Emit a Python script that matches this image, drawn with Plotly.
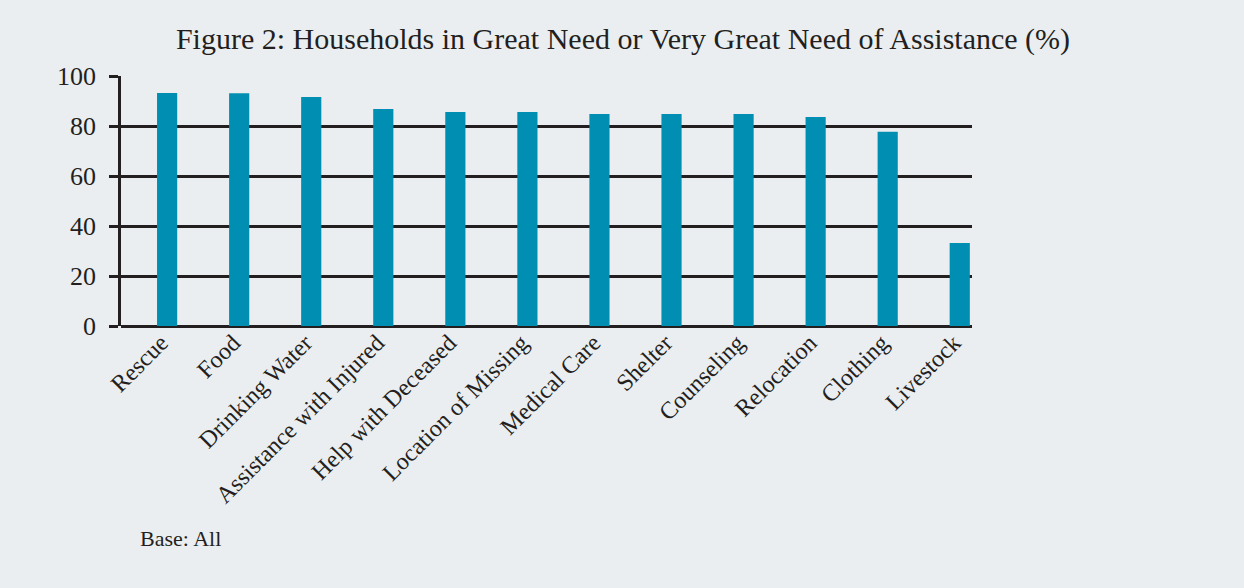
import plotly.graph_objects as go

categories = ["Rescue", "Food", "Drinking Water", "Assistance with Injured",
              "Help with Deceased", "Location of Missing", "Medical Care", "Shelter",
              "Counseling", "Relocation", "Clothing", "Livestock"]
values = [93.2, 93.1, 91.6, 86.8, 85.6, 85.6, 84.8, 84.8, 84.8, 83.6, 77.7, 33.2]
y_ticks = [0, 20, 40, 60, 80, 100]

BG = "#ebeef0"
INK = "#231f20"
FONT = "Liberation Serif"

fig = go.Figure(go.Bar(x=categories, y=values, width=0.28, marker_color="#008fb3",
                       marker_line_width=0))

fig.update_layout(
    width=1244, height=588,
    paper_bgcolor=BG, plot_bgcolor=BG,
    margin=dict(l=121, r=272, t=76, b=262),
    showlegend=False,
    title=dict(text="Figure 2: Households in Great Need or Very Great Need of Assistance (%)",
               x=(623 - 121) / 851, xref="paper", xanchor="center",
               y=1 - 38 / 588, yanchor="middle",
               font=dict(family=FONT, size=30, color=INK)),
    font=dict(family=FONT, color=INK),
)
fig.update_xaxes(type="category", range=[-0.64, 11.17], tickangle=-45,
                 tickfont=dict(size=24, color=INK), showgrid=False, ticks="",
                 showline=False, zeroline=False,
                 ticklabelshift=-6, ticklabelstandoff=-3)
fig.update_yaxes(range=[0, 100], tickvals=y_ticks, ticks="outside", ticklen=9,
                 tickwidth=2.5, tickcolor=INK, showgrid=True, gridcolor=INK,
                 gridwidth=2.5, showline=True, linecolor=INK, linewidth=2.5,
                 zeroline=True, zerolinecolor=INK, zerolinewidth=2.5,
                 ticklabelstandoff=8,
                 tickfont=dict(size=26, color=INK))
fig.add_shape(type="line", xref="x domain", yref="y", x0=0, x1=0, y0=0, y1=-4,
              line=dict(color=INK, width=2.5))
fig.add_annotation(text="Base: All", xref="paper", yref="paper",
                   x=(138 - 121) / 851, xanchor="left",
                   y=-(538 - 326) / 250, yanchor="middle", showarrow=False,
                   font=dict(family=FONT, size=22, color=INK))
fig.write_html("out.html")
